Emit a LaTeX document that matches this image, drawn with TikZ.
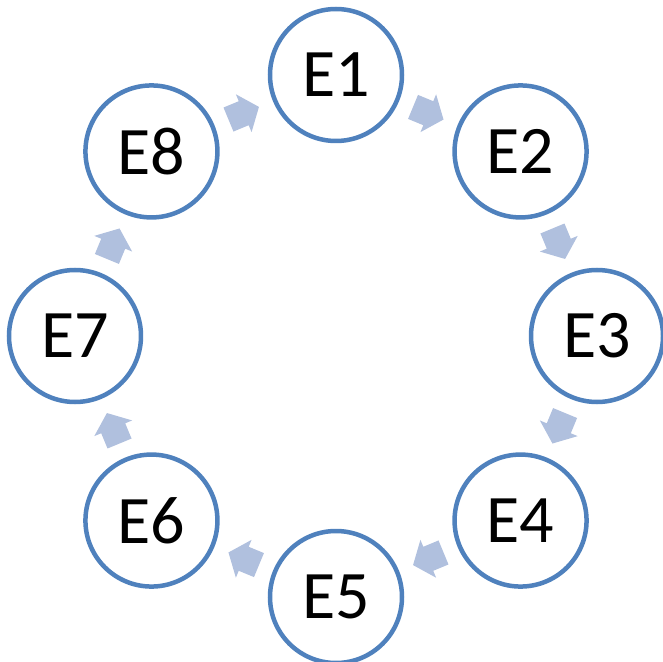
\documentclass[tikz,border=0pt]{standalone}
\usepackage{fontspec}
\setmainfont{Carlito}
\usetikzlibrary{calc}

\definecolor{ringblue}{RGB}{79,129,189}
\definecolor{flowblue}{RGB}{176,192,222}

\begin{document}
\begin{tikzpicture}[
  x=1pt, y=1pt,
  stage/.style={circle, draw=ringblue, line width=4.5pt, fill=white, minimum size=132pt, inner sep=0pt, font=\fontsize{68}{80}\selectfont},
  flow/.pic={\fill[flowblue] (-16.5,13) -- (0,13) -- (0,20.5) -- (16.5,0) -- (0,-20.5) -- (0,-13) -- (-16.5,-13) -- cycle;}
  ]
  \useasboundingbox (-336,-325) rectangle (327,336);

  % Eight stages around the ring
  \node[stage] (e1) at (90:261) {E1};
  \node[stage] (e2) at (45:261) {E2};
  \node[stage] (e3) at (0:261) {E3};
  \node[stage] (e4) at (-45:261) {E4};
  \node[stage] (e5) at (-90:261) {E5};
  \node[stage] (e6) at (-135:261) {E6};
  \node[stage] (e7) at (180:261) {E7};
  \node[stage] (e8) at (135:261) {E8};

  % Block arrows between neighbours, clockwise
  \pic[rotate=-22.5] at ($(e1)!0.5!(e2)$) {flow};
  \pic[rotate=-67.5] at ($(e2)!0.5!(e3)$) {flow};
  \pic[rotate=-112.5] at ($(e3)!0.5!(e4)$) {flow};
  \pic[rotate=-157.5] at ($(e4)!0.5!(e5)$) {flow};
  \pic[rotate=157.5] at ($(e5)!0.5!(e6)$) {flow};
  \pic[rotate=112.5] at ($(e6)!0.5!(e7)$) {flow};
  \pic[rotate=67.5] at ($(e7)!0.5!(e8)$) {flow};
  \pic[rotate=22.5] at ($(e8)!0.5!(e1)$) {flow};

\end{tikzpicture}
\end{document}
